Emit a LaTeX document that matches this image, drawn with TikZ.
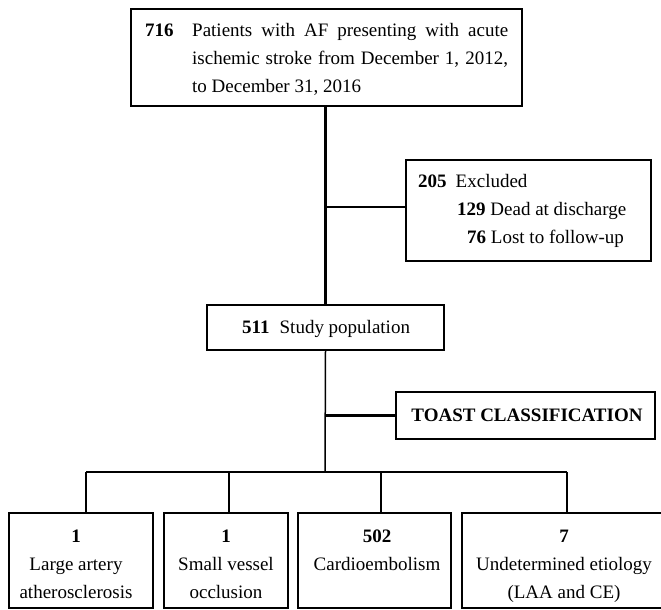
\documentclass[tikz,border=0pt]{standalone}
\usepackage{fontspec}
\setmainfont{Liberation Serif}
\begin{document}
\begin{tikzpicture}[x=1pt,y=-1pt,
  box/.style={draw, line width=2.3pt, inner sep=0pt},
  conn/.style={line width=2.3pt},
  thinconn/.style={line width=1.5pt},
  txt/.style={inner sep=0pt, font=\fontsize{19}{28}\selectfont},
  every node/.style={font=\fontsize{19}{28}\selectfont}]
\useasboundingbox (0,0) rectangle (661,610);
\clip (0,0) rectangle (661,610);
% boxes
\node[box, minimum width=391pt, minimum height=97pt] (top) at (326.5,57.5) {};
\node[box, minimum width=245pt, minimum height=101pt] (exc) at (528.5,210.5) {};
\node[box, minimum width=237pt, minimum height=45pt] (sp) at (325.5,327.5) {};
\node[box, minimum width=259pt, minimum height=47pt] (toast) at (525.5,415.5) {};
\node[box, minimum width=144pt, minimum height=95pt] (b1) at (81,560.5) {};
\node[box, minimum width=124pt, minimum height=95pt] (b2) at (226,560.5) {};
\node[box, minimum width=153pt, minimum height=95pt] (b3) at (374.5,560.5) {};
\node[box, minimum width=204pt, minimum height=95pt] (b4) at (564,560.5) {};
% texts: top
\node[txt, anchor=base west] (t716) at (145,37) {\textbf{716}};
\node[txt, anchor=base west] (ttext) at (192,37) {\parbox[t]{316pt}{\fontsize{19}{28}\selectfont\spaceskip=0.25em plus 1em
Patients with AF presenting with acute ischemic stroke from December 1, 2012, to December 31, 2016}};
% excluded
\node[txt, anchor=base west] (e205) at (418,187) {\textbf{205}\hspace{9pt}Excluded};
\node[txt, anchor=base west] (e129) at (457,215) {\textbf{129} Dead at discharge};
\node[txt, anchor=base west] (e76) at (467,243) {\textbf{76} Lost to follow-up};
% study population
\node[txt, anchor=base west] (s511) at (242,333) {\textbf{511}\hspace{10pt}Study population};
% toast
\node[txt, anchor=base] (ttoast) at (527,421) {\textbf{TOAST CLASSIFICATION}};
% bottom texts
\node[txt, anchor=base] (n1) at (76,542) {\textbf{1}};
\node[txt, anchor=base] (l1a) at (76,570) {Large artery};
\node[txt, anchor=base] (l1b) at (76,598) {atherosclerosis};
\node[txt, anchor=base] (n2) at (226,542) {\textbf{1}};
\node[txt, anchor=base] (l2a) at (226,570) {Small vessel};
\node[txt, anchor=base] (l2b) at (226,598) {occlusion};
\node[txt, anchor=base] (n3) at (377,542) {\textbf{502}};
\node[txt, anchor=base] (l3a) at (377,570) {Cardioembolism};
\node[txt, anchor=base] (n4) at (564,542) {\textbf{7}};
\node[txt, anchor=base] (l4a) at (564,570) {Undetermined etiology};
\node[txt, anchor=base] (l4b) at (564,598) {(LAA and CE)};
% connectors
\coordinate (ej) at (325,207);
\coordinate (j) at (325,472);
\coordinate (d1) at (86,472);
\coordinate (d2) at (229,472);
\coordinate (d3) at (381,472);
\coordinate (d4) at (567,472);
\draw[conn] (top.south -| sp.north) -- (sp.north);
\draw[conn] (ej) -- (ej -| exc.west);
\draw[thinconn] (sp.south) -- (j);
\draw[conn] (toast.west -| sp.south) -- (toast.west);
\draw[conn] (d1) -- (d4);
\draw[conn] (d1) -- (d1 |- b1.north);
\draw[conn] (d2) -- (d2 |- b2.north);
\draw[conn] (d3) -- (d3 |- b3.north);
\draw[conn] (d4) -- (d4 |- b4.north);
\end{tikzpicture}
\end{document}
